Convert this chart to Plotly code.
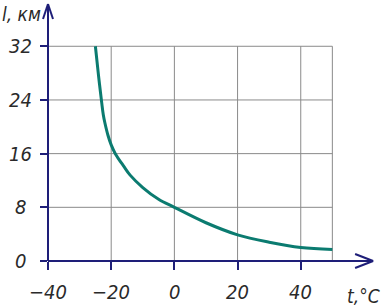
import plotly.graph_objects as go

# Data
temp_c = [-25.0, -24.0, -23.0, -22.5, -22.0, -21.0, -20.0, -18.7, -16.0, -14.0, -10.0, -5.0, 0.0, 10.0, 20.0, 30.0, 40.0, 50.0]
dist_km = [32.0, 27.6, 23.6, 21.8, 20.6, 18.7, 17.3, 16.0, 14.1, 12.8, 10.95, 9.2, 8.0, 5.7, 3.9, 2.8, 2.0, 1.7]

x_ticks = [-40, -20, 0, 20, 40]
x_tick_labels = ["−40", "−20", "0", "20", "40"]
y_ticks = [0, 8, 16, 24, 32]
y_tick_labels = ["0", "8", "16", "24", "32"]
grid_x = [-20, 0, 20, 40, 50]
grid_y = [8, 16, 24, 32]
y_title = "l, км"
x_title = "t,°C"

X_MIN, X_MAX = -40, 63.5
Y_MIN, Y_MAX = 0, 38.6
X_GRID_END = 50
Y_GRID_END = 32
X_TIP = 62.9
Y_TIP = 38.3

AXIS_COLOR = "#1e1e78"
GRID_COLOR = "#8a8a8a"
CURVE_COLOR = "#0b7b70"
TEXT_COLOR = "#2a2a2a"
FONT = "Liberation Sans Narrow, Arial Narrow, DejaVu Sans Condensed, sans-serif"

# paper-fraction positions of axis tips (shapes in paper coords are not clipped)
x_tip_p = (X_TIP - X_MIN) / (X_MAX - X_MIN)
y_tip_p = (Y_TIP - Y_MIN) / (Y_MAX - Y_MIN)

fig = go.Figure()
fig.add_trace(go.Scatter(
    x=temp_c, y=dist_km, mode="lines",
    line=dict(color=CURVE_COLOR, width=3, shape="spline", smoothing=1.0),
    hoverinfo="skip", showlegend=False, cliponaxis=False,
))

shapes = []
for gx in grid_x:
    shapes.append(dict(type="line", xref="x", yref="y", x0=gx, x1=gx, y0=0, y1=Y_GRID_END,
                       line=dict(color=GRID_COLOR, width=1), layer="below"))
for gy in grid_y:
    shapes.append(dict(type="line", xref="x", yref="y", x0=X_MIN, x1=X_GRID_END, y0=gy, y1=gy,
                       line=dict(color=GRID_COLOR, width=1), layer="below"))
# axis lines
shapes.append(dict(type="line", xref="paper", yref="paper", x0=0, x1=x_tip_p, y0=0, y1=0,
                   line=dict(color=AXIS_COLOR, width=2), layer="above"))
shapes.append(dict(type="line", xref="paper", yref="paper", x0=0, x1=0, y0=0, y1=y_tip_p,
                   line=dict(color=AXIS_COLOR, width=2), layer="above"))
# arrowheads (pixel-sized arms)
for s in (7, -7):
    shapes.append(dict(type="line", xref="paper", yref="paper", xsizemode="pixel", ysizemode="pixel",
                       xanchor=x_tip_p, yanchor=0, x0=0, x1=-18, y0=0, y1=s,
                       line=dict(color=AXIS_COLOR, width=2), layer="above"))
for s in (5, -5):
    shapes.append(dict(type="line", xref="paper", yref="paper", xsizemode="pixel", ysizemode="pixel",
                       xanchor=0, yanchor=y_tip_p, x0=0, x1=s, y0=0, y1=-15,
                       line=dict(color=AXIS_COLOR, width=2), layer="above"))

tick_font = dict(family=FONT, size=20, color=TEXT_COLOR, style="italic")
annotations = []
for v, t in zip(x_ticks, x_tick_labels):
    annotations.append(dict(x=v, y=0, xref="x", yref="y", text=t, showarrow=False,
                            xanchor="center", yanchor="middle", yshift=-31, font=tick_font))
for v, t in zip(y_ticks, y_tick_labels):
    annotations.append(dict(x=X_MIN, y=v, xref="x", yref="y", text=t, showarrow=False,
                            xanchor="center", yanchor="middle", xshift=-28, font=tick_font))
annotations.append(dict(x=0, y=1, xref="paper", yref="paper", text=y_title, showarrow=False,
                        xanchor="center", yanchor="middle", xshift=-27, yshift=-12,
                        font=dict(family=FONT, size=19, color=TEXT_COLOR, style="italic")))
annotations.append(dict(x=60.0, y=0, xref="x", yref="y", text=x_title, showarrow=False,
                        xanchor="center", yanchor="middle", yshift=-35,
                        font=dict(family=FONT, size=19, color=TEXT_COLOR, style="italic")))

fig.update_layout(
    width=381, height=307,
    margin=dict(l=48, r=6, t=2, b=46, pad=0),
    paper_bgcolor="white", plot_bgcolor="white",
    shapes=shapes, annotations=annotations,
    xaxis=dict(range=[X_MIN, X_MAX], showgrid=False, zeroline=False, showline=False,
               tickmode="array", tickvals=x_ticks, ticks="outside", ticklen=8, tickwidth=2,
               tickcolor=AXIS_COLOR, showticklabels=False, fixedrange=True),
    yaxis=dict(range=[Y_MIN, Y_MAX], showgrid=False, zeroline=False, showline=False,
               tickmode="array", tickvals=y_ticks, ticks="outside", ticklen=7, tickwidth=2,
               tickcolor=AXIS_COLOR, showticklabels=False, fixedrange=True),
)

fig.write_html("out.html", config={"displayModeBar": False, "staticPlot": True},
               post_script="document.body.style.margin='0';document.body.style.overflow='hidden';")
